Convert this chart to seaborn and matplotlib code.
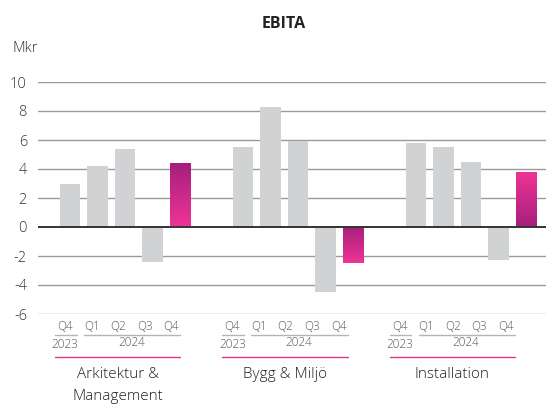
import numpy as np
import pandas as pd
import matplotlib
matplotlib.use("Agg")
import matplotlib.pyplot as plt
import seaborn as sns
from matplotlib.colors import to_rgb
from matplotlib.transforms import blended_transform_factory

# ---- data ----
segments = ["Arkitektur &\nManagement", "Bygg & Miljö", "Installation"]
quarters = ["Q4", "Q1", "Q2", "Q3", "Q4"]
years = ["2023", "2024"]
arkitektur = [3.0, 4.2, 5.4, -2.4, 4.4]
bygg = [5.5, 8.3, 5.9, -4.5, -2.5]
installation = [5.8, 5.5, 4.5, -2.3, 3.8]
yticks = [-6, -4, -2, 0, 2, 4, 6, 8, 10]

series = [arkitektur, bygg, installation]
GROUP_STEP = 6.29

rows = []
for g, vals in enumerate(series):
    for q, v in enumerate(vals):
        rows.append({"pos": g * GROUP_STEP + q, "value": v,
                     "kind": "cur" if q == len(vals) - 1 else "hist",
                     "group": g, "q": q})
df = pd.DataFrame(rows)

sns.set_theme(style="white")
plt.rcParams["font.family"] = ["Open Sans", "DejaVu Sans"]
LW = "light"

fig = plt.figure(figsize=(5.46, 4.05), dpi=100)
ax = fig.add_axes([38 / 546, 1 - 314 / 405, 1 - 38 / 546, 232 / 405])

GREY = "#d1d2d4"
CUR = "#c62787"
sns.barplot(data=df, x="pos", y="value", hue="kind",
            palette={"hist": GREY, "cur": CUR}, dodge=False, saturation=1,
            native_scale=True, width=0.74, legend=False, ax=ax,
            zorder=3, linewidth=0, err_kws={"linewidth": 0})

# gradient fill on highlighted bars
dark = np.array(to_rgb("#a61f7b"))
pink = np.array(to_rgb("#ef3497"))
cur_patches = [p for p in ax.patches
               if np.allclose(p.get_facecolor()[:3], to_rgb(CUR), atol=0.03)]
cur_patches.sort(key=lambda p: p.get_x())
dark_on_top = [True, True, False]
for p, dtop in zip(cur_patches, dark_on_top):
    x0 = p.get_x(); w = p.get_width()
    y0 = min(p.get_y(), p.get_y() + p.get_height())
    y1 = max(p.get_y(), p.get_y() + p.get_height())
    t = np.linspace(0, 1, 256)[:, None]
    if dtop:
        cols = pink[None, :] * (1 - t) + dark[None, :] * t
    else:
        cols = dark[None, :] * (1 - t) + pink[None, :] * t
    img = cols[:, None, :]
    im = ax.imshow(img, extent=[x0, x0 + w, y0, y1], origin="lower",
                   aspect="auto", zorder=4, interpolation="bilinear")
    im.set_clip_path(p)

ax.set_xlim(-1.164, 17.31)
ax.set_ylim(-6, 10)
ax.set_yticks(yticks)
ax.set_yticklabels([str(v) for v in yticks], fontsize=10.5, color="#333333",
                   fontweight=LW)
ax.tick_params(axis="y", length=0, pad=8)
ax.set_xticks([])
ax.set_xlabel("")
ax.set_ylabel("")
for s in ax.spines.values():
    s.set_visible(False)
for v in yticks:
    if v == 0:
        ax.axhline(0, color="#333333", lw=1.4, zorder=5)
    else:
        ax.axhline(v, color="#9a9a9a", lw=1.0, zorder=1)

# category axis labels
tr = blended_transform_factory(ax.transData, ax.transAxes)
H = 232.0
def ay(px):
    return -(px - 314) / H

def lab(x):
    return 0.967 * x - 0.18

for g in range(len(series)):
    base = g * GROUP_STEP
    xs = [lab(base + q) for q in range(len(quarters))]
    for x, qn in zip(xs, quarters):
        ax.text(x, ay(327), qn, transform=tr, ha="center", va="center",
                fontsize=8.5, color="#555555", clip_on=False, fontweight=LW)
    ax.plot([xs[0] - 0.36, xs[0] + 0.42], [ay(335)] * 2, transform=tr,
            color="#b5b5b5", lw=1, clip_on=False)
    ax.plot([xs[1] - 0.27, xs[-1] + 0.33], [ay(335)] * 2, transform=tr,
            color="#b5b5b5", lw=1, clip_on=False)
    ax.text(xs[0], ay(344), years[0], transform=tr, ha="center", va="center",
            fontsize=8.5, color="#555555", clip_on=False, fontweight=LW)
    ax.text((xs[1] + xs[-1]) / 2, ay(342), years[1], transform=tr, ha="center",
            va="center", fontsize=8.5, color="#555555", clip_on=False,
            fontweight=LW)
    ax.plot([xs[0] - 0.36, xs[-1] + 0.33], [ay(357)] * 2, transform=tr,
            color="#e0338d", lw=1, clip_on=False)
    mid = (xs[0] - 0.36 + xs[-1] + 0.33) / 2
    for i, line in enumerate(segments[g].split("\n")):
        ax.text(mid, ay(375 + 22 * i), line, transform=tr, ha="center",
                va="center", fontsize=11, color="#222222", clip_on=False,
                fontweight=LW)

fig.text(284 / 546, 1 - 24 / 405, "EBITA", ha="center", va="center",
         fontsize=11.5, fontweight="bold", color="#222222")
fig.text(13 / 546, 1 - 49 / 405, "Mkr", ha="left", va="center",
         fontsize=10.5, color="#333333", fontweight=LW)

fig.savefig("out.png", dpi=100)
